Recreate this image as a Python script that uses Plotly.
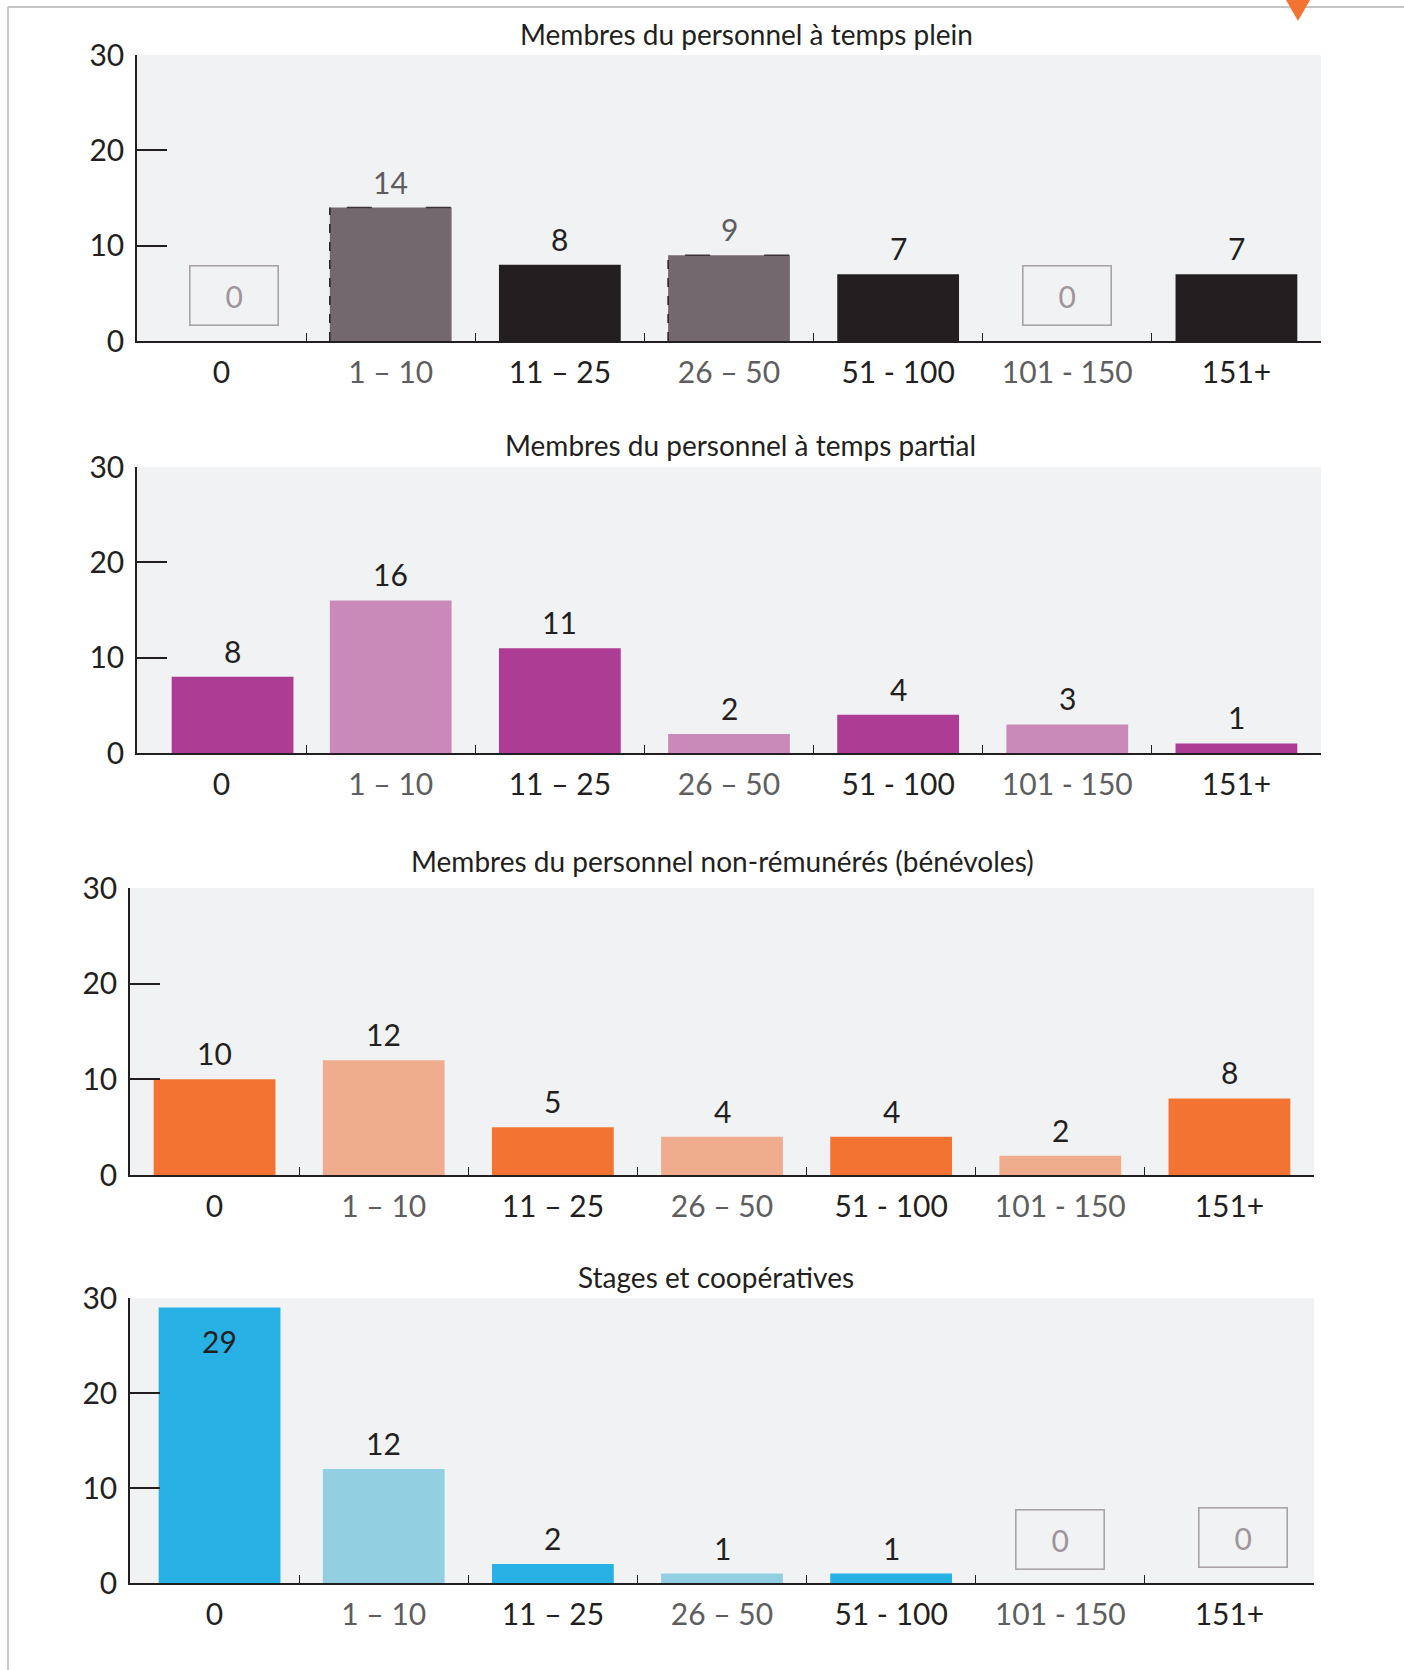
import plotly.graph_objects as go

# ---------------- data ----------------
categories = ["0", "1 – 10", "11 – 25", "26 – 50", "51 - 100", "101 - 150", "151+"]

titles = [
    "Membres du personnel à temps plein",
    "Membres du personnel à temps partial",
    "Membres du personnel non-rémunérés (bénévoles)",
    "Stages et coopératives",
]

full_time = [0, 14, 8, 9, 7, 0, 7]
part_time = [8, 16, 11, 2, 4, 3, 1]
volunteers = [10, 12, 5, 4, 4, 2, 8]
internships = [29, 12, 2, 1, 1, 0, 0]

y_ticks = [0, 10, 20, 30]

# ---------------- styling ----------------
FONT = "Lato"
BLACK = "#231f20"
GREY_TXT = "#5e5e60"

panel_colors = [
    ["#73686e", "#231f20"],      # full time: grey / black
    ["#ad3c95", "#c98aba"],      # part time: dark / light
    ["#f37432", "#f0ad8e"],      # volunteers
    ["#27b1e5", "#91cfe1"],      # internships
]

W, H = 1404, 1670

# pixel geometry (left, right, top(30), bottom(0))
panels_px = [
    (137, 1321, 55, 341),
    (137, 1321, 467, 753),
    (130, 1314, 888, 1175),
    (130, 1314, 1298, 1583),
]
title_px = [(746, 34), (740, 445), (722, 861), (716, 1277)]
# small horizontal nudge (px) of the first bar in some panels
first_shift_px = [0, 11, 0, 5]

series = [full_time, part_time, volunteers, internships]

BAR_W = 0.72

fig = go.Figure()
annotations = []
shapes = []

for i, vals in enumerate(series):
    n = i + 1
    xa = "x" if n == 1 else f"x{n}"
    ya = "y" if n == 1 else f"y{n}"
    dark, light = panel_colors[i]
    if i == 0:
        cols = [dark if k % 2 == 1 else light for k in range(len(vals))]
    else:
        cols = [dark if k % 2 == 0 else light for k in range(len(vals))]

    l, r, t, b = panels_px[i]
    cat_px = (r - l) / len(categories)
    offsets = [-BAR_W / 2] * len(vals)
    offsets[0] += first_shift_px[i] / cat_px

    fig.add_trace(go.Bar(
        x=categories, y=vals, xaxis=xa, yaxis=ya,
        width=[BAR_W] * len(vals), offset=offsets,
        marker=dict(color=cols, line=dict(width=0)),
        showlegend=False, hoverinfo="x+y",
    ))

    # dashed outline remnants on the grey bars of the first panel
    if i == 0:
        for k, v in enumerate(vals):
            if k % 2 == 1 and v > 0:
                x0 = k - BAR_W / 2
                shapes.append(dict(type="line", xref=xa, yref=ya, x0=x0, x1=x0, y0=0, y1=v,
                                   line=dict(color=BLACK, width=1.5, dash="dash"), layer="above"))
                shapes.append(dict(type="line", xref=xa, yref=ya, x0=x0, x1=k + BAR_W / 2,
                                   y0=v, y1=v,
                                   line=dict(color="#3a3436", width=1.5,
                                             dash="0px,17px,25px,37px"),
                                   layer="above"))

    # value labels
    for k, (c, v) in enumerate(zip(categories, vals)):
        xs_bar = first_shift_px[i] if k == 0 else 0
        if v > 0:
            if i == 0:
                tcol = "#5d5d5f" if k % 2 == 1 else BLACK
            else:
                tcol = BLACK
            inside = v >= 28
            annotations.append(dict(
                x=c, y=v, xref=xa, yref=ya, text=str(v), showarrow=False,
                yanchor="middle", yshift=-33 if inside else 26, xshift=xs_bar,
                font=dict(family=FONT, size=30, color=tcol),
            ))
        else:
            # boxed zero marker
            ymid = 4.8
            xs = 0
            if i == 0 and k == 0:
                xs = 12
            if i == 3 and k == 5:
                ymid = 4.6
            if i == 3 and k == 6:
                xs = 14
            annotations.append(dict(
                x=c, y=ymid, xref=xa, yref=ya, text="0", showarrow=False,
                xshift=xs, width=87, height=58,
                bordercolor="#aaa3a6", borderwidth=1.6, borderpad=0,
                font=dict(family=FONT, size=30, color="#9d9599"),
            ))

    ticktext = []
    for k, c in enumerate(categories):
        col = BLACK if k % 2 == 0 else GREY_TXT
        ticktext.append(f'<span style="color:{col}">{c}</span>')

    fig.update_layout(**{
        ("xaxis" if n == 1 else f"xaxis{n}"): dict(
            domain=[l / W, r / W], anchor=ya,
            type="category", categoryorder="array", categoryarray=categories,
            tickmode="array", tickvals=categories, ticktext=ticktext,
            tickson="boundaries", ticks="inside", ticklen=8, tickwidth=1.2,
            tickcolor=BLACK, showline=True, linecolor=BLACK, linewidth=2,
            showgrid=False, zeroline=False, ticklabelstandoff=4,
            automargin=False,
            tickfont=dict(family=FONT, size=30, color=BLACK),
            fixedrange=True,
        ),
        ("yaxis" if n == 1 else f"yaxis{n}"): dict(
            domain=[1 - b / H, 1 - t / H], anchor=xa,
            range=[0, 30], tickvals=y_ticks,
            ticks="inside", ticklen=30, tickwidth=1.5, tickcolor=BLACK,
            showline=True, linecolor=BLACK, linewidth=1.5,
            showgrid=False, zeroline=False, ticklabelstandoff=5,
            automargin=False,
            tickfont=dict(family=FONT, size=30, color=BLACK),
            fixedrange=True,
        ),
    })

    tx, ty = title_px[i]
    annotations.append(dict(
        x=tx / W, y=1 - ty / H, xref="paper", yref="paper",
        text=titles[i], showarrow=False, xanchor="center", yanchor="middle",
        font=dict(family=FONT, size=28, color=BLACK),
    ))

shapes += [
    # page frame lines
    dict(type="line", xref="paper", yref="paper", x0=8 / W, x1=1, y0=1 - 7 / H, y1=1 - 7 / H,
         line=dict(color="#c6c6c6", width=2)),
    dict(type="line", xref="paper", yref="paper", x0=8 / W, x1=8 / W, y0=0, y1=1 - 7 / H,
         line=dict(color="#c6c6c6", width=2)),
    # orange marker triangle
    dict(type="path", xref="paper", yref="paper",
         path=f"M {1286 / W} 1 L {1310 / W} 1 L {1298 / W} {1 - 21 / H} Z",
         fillcolor="#f37432", line=dict(width=0)),
]

fig.update_layout(
    width=W, height=H,
    margin=dict(l=0, r=0, t=0, b=0, pad=0, autoexpand=False),
    paper_bgcolor="white",
    plot_bgcolor="#f1f2f4",
    annotations=annotations,
    shapes=shapes,
    font=dict(family=FONT, color=BLACK),
)

fig.write_html("out.html")
